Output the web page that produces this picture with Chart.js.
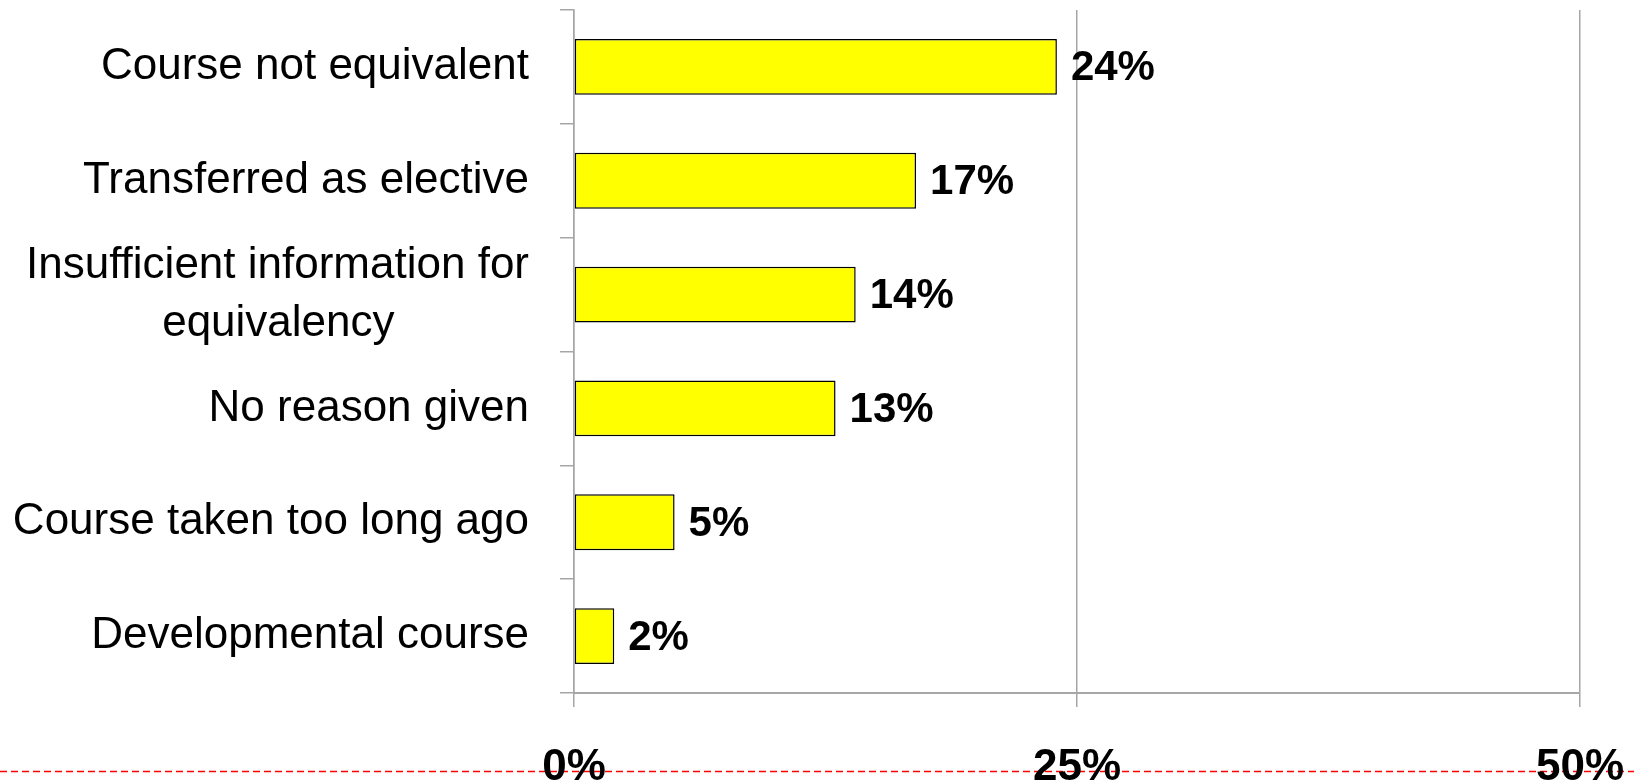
<!DOCTYPE html>
<html>
<head>
<meta charset="utf-8">
<script src="https://cdn.jsdelivr.net/npm/chart.js@4.4.0/dist/chart.umd.min.js"></script>
<style>
  html, body { margin: 0; padding: 0; background: #fff; }
  #wrap { width: 1634px; height: 782px; }
</style>
</head>
<body>
<div id="wrap"><canvas id="reasonsChart" width="1634" height="782"></canvas></div>
<script>
// reasons a transfer course was not accepted, share of responses (%)
const reasons = [
  'Course not equivalent',
  'Transferred as elective',
  ['Insufficient information for', 'equivalency' + '\u00a0'.repeat(11)],
  'No reason given',
  'Course taken too long ago',
  'Developmental course',
];
const shares = [24, 17, 14, 13, 5, 2];
const axisTicks = [0, 25, 50];

const FONT = "'Liberation Sans', Arial, sans-serif";

/**
 * Dashed red guide running under the axis labels
 */
const guideLine = {
  id: 'guideLine',
  beforeDraw(chart) {
    const { ctx, width } = chart;
    ctx.save();
    ctx.strokeStyle = '#ff0000';
    ctx.lineWidth = 1.5;
    ctx.setLineDash([7, 4]);
    ctx.beginPath();
    ctx.moveTo(0, 771.5);
    ctx.lineTo(width, 771.5);
    ctx.stroke();
    ctx.restore();
  },
};

/**
 * Percentage printed at the end of each bar
 */
const barValues = {
  id: 'barValues',
  afterDatasetsDraw(chart) {
    const { ctx } = chart;
    const meta = chart.getDatasetMeta(0);
    ctx.save();
    ctx.font = `bold 42px ${FONT}`;
    ctx.fillStyle = '#000';
    ctx.textAlign = 'left';
    ctx.textBaseline = 'middle';
    meta.data.forEach((bar, i) => {
      ctx.fillText(shares[i] + '%', bar.x + 14, bar.y + 2);
    });
    ctx.restore();
  },
};

new Chart(document.getElementById('reasonsChart').getContext('2d'), {
  type: 'bar',
  data: {
    labels: reasons,
    datasets: [
      {
        data: shares,
        backgroundColor: '#ffff00',
        borderColor: '#000000',
        borderWidth: 1.5,
        borderSkipped: false,
        categoryPercentage: 1,
        barPercentage: 0.49,
      },
    ],
  },
  options: {
    indexAxis: 'y',
    responsive: false,
    animation: false,
    layout: { padding: { top: 10, right: 54, left: 0, bottom: 0 } },
    plugins: {
      legend: { display: false },
      tooltip: { enabled: false },
    },
    scales: {
      x: {
        min: 0,
        max: 50,
        afterBuildTicks(scale) {
          scale.ticks = axisTicks.map(value => ({ value }));
        },
        afterFit(scale) {
          scale.height = 89;
          scale.paddingLeft = 0;
          scale.paddingRight = 0;
        },
        grid: {
          color: '#a6a6a6',
          lineWidth: 1.5,
          tickLength: 14,
        },
        border: { color: '#a6a6a6', width: 2 },
        ticks: {
          color: '#000',
          padding: 34,
          font: { family: FONT, size: 44, weight: 'bold' },
          maxRotation: 0,
          callback: value => value + '%',
        },
      },
      y: {
        afterFit(scale) {
          scale.width = 574;
          scale.paddingTop = 0;
          scale.paddingBottom = 0;
        },
        grid: {
          offset: true,
          drawOnChartArea: false,
          color: '#a6a6a6',
          lineWidth: 1.5,
          tickLength: 14,
        },
        border: { color: '#a6a6a6', width: 1.5 },
        ticks: {
          color: '#000',
          padding: 31,
          autoSkip: false,
          crossAlign: 'near',
          font: { family: FONT, size: 44, lineHeight: 1.32 },
        },
      },
    },
  },
  plugins: [guideLine, barValues],
});
</script>
</body>
</html>
